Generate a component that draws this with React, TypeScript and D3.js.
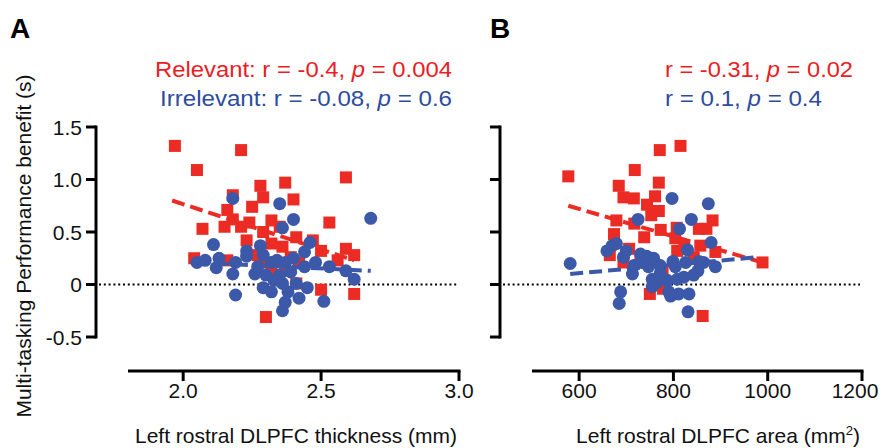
import React from "react";
import * as d3 from "d3";

// ---------- DATA ----------
// Panel A: Left rostral DLPFC thickness (mm) vs multitasking benefit (s)
const thickRelevantX = [1.97, 2.21, 2.05, 2.59, 2.37, 2.28, 2.29, 2.40, 2.18, 2.25, 2.16, 2.07, 2.15, 2.21, 2.18, 2.24, 2.32, 2.35, 2.53, 2.29, 2.41, 2.23, 2.47, 2.32, 2.36, 2.50, 2.59, 2.62, 2.56, 2.04, 2.16, 2.39, 2.27, 2.30, 2.41, 2.50, 2.62, 2.30, 2.37, 2.32, 2.42];
const thickRelevantY = [1.32, 1.28, 1.09, 1.02, 0.97, 0.94, 0.83, 0.81, 0.85, 0.74, 0.71, 0.53, 0.55, 0.55, 0.62, 0.59, 0.61, 0.55, 0.59, 0.50, 0.45, 0.42, 0.42, 0.39, 0.36, 0.32, 0.34, 0.28, 0.23, 0.25, 0.23, 0.26, 0.28, 0.21, 0.01, -0.05, -0.09, -0.31, 0.18, 0.13, 0.21];
const thickIrrelevantX = [2.18, 2.35, 2.40, 2.36, 2.68, 2.11, 2.28, 2.23, 2.46, 2.44, 2.05, 2.08, 2.13, 2.12, 2.19, 2.18, 2.29, 2.34, 2.37, 2.48, 2.53, 2.59, 2.62, 2.44, 2.39, 2.26, 2.30, 2.35, 2.29, 2.33, 2.36, 2.32, 2.38, 2.19, 2.45, 2.51, 2.37, 2.36, 2.27, 2.41, 2.23, 2.32, 2.40, 2.42];
const thickIrrelevantY = [0.82, 0.77, 0.62, 0.54, 0.63, 0.38, 0.37, 0.32, 0.40, 0.31, 0.21, 0.23, 0.25, 0.16, 0.21, 0.10, 0.28, 0.23, 0.21, 0.21, 0.17, 0.13, 0.05, 0.17, 0.12, 0.10, 0.09, 0.09, -0.03, 0.04, 0.01, -0.07, -0.07, -0.10, -0.03, -0.16, -0.17, -0.25, 0.17, 0.01, 0.27, 0.21, 0.25, -0.13];
const thickFitRelevant = { x: [1.96, 2.62], y: [0.80, 0.23] };
const thickFitIrrelevant = { x: [2.05, 2.68], y: [0.21, 0.13] };

// Panel B: Left rostral DLPFC area (mm2)
const areaRelevantX = [577, 771, 815, 718, 684, 769, 694, 716, 761, 744, 769, 753, 679, 717, 883, 773, 807, 854, 870, 674, 738, 804, 706, 823, 808, 665, 889, 843, 694, 989, 750, 862, 777, 778, 730, 857];
const areaRelevantY = [1.03, 1.28, 1.32, 1.09, 0.94, 0.97, 0.83, 0.82, 0.84, 0.76, 0.70, 0.66, 0.61, 0.58, 0.61, 0.52, 0.54, 0.53, 0.53, 0.48, 0.45, 0.44, 0.34, 0.37, 0.32, 0.28, 0.31, 0.26, 0.21, 0.21, -0.09, -0.30, 0.11, -0.04, 0.23, 0.37];
const areaIrrelevantX = [797, 874, 725, 838, 813, 880, 830, 581, 659, 670, 679, 694, 730, 743, 758, 716, 713, 747, 772, 799, 804, 826, 854, 864, 889, 852, 755, 765, 787, 808, 822, 755, 790, 811, 833, 794, 688, 685, 831, 772, 732, 700, 843];
const areaIrrelevantY = [0.82, 0.77, 0.62, 0.62, 0.53, 0.40, 0.33, 0.20, 0.32, 0.37, 0.39, 0.26, 0.29, 0.27, 0.25, 0.18, 0.10, 0.17, 0.18, 0.22, 0.17, 0.21, 0.22, 0.21, 0.17, 0.13, 0.05, 0.02, 0.04, 0.05, 0.07, -0.02, -0.07, -0.09, -0.09, -0.11, -0.07, -0.18, -0.26, 0.11, 0.21, 0.32, 0.09];
const areaFitRelevant = { x: [577, 989], y: [0.75, 0.21] };
const areaFitIrrelevant = { x: [581, 979], y: [0.10, 0.26] };

const yTicks = [1.5, 1.0, 0.5, 0, -0.5];
const yTickLabels = ["1.5", "1.0", "0.5", "0", "-0.5"];
const thickTicks = [2.0, 2.5, 3.0];
const thickTickLabels = ["2.0", "2.5", "3.0"];
const areaTicks = [600, 800, 1000, 1200];
const areaTickLabels = ["600", "800", "1000", "1200"];

// ---------- STYLE ----------
const RED = "#EC2C24";
const BLUE = "#3C58A8";
const RED_TXT = "#EA1D25";
const BLUE_TXT = "#2D4C9E";
const FONT = "'Liberation Sans', Arial, Helvetica, sans-serif";

type PanelProps = {
  xDomain: [number, number];
  xRange: [number, number];
  yAxisX: number;
  xTicks: number[];
  xTickLabels: string[];
  showYLabels: boolean;
  relX: number[];
  relY: number[];
  irrX: number[];
  irrY: number[];
  fitRel: { x: number[]; y: number[] };
  fitIrr: { x: number[]; y: number[] };
  zeroRange: [number, number];
};

const yScale = d3.scaleLinear().domain([-0.5, 1.5]).range([337, 127]);
const X_AXIS_Y = 371;

function Panel(p: PanelProps) {
  const x = d3.scaleLinear().domain(p.xDomain).range(p.xRange);
  const line = d3
    .line<[number, number]>()
    .x((d) => x(d[0]))
    .y((d) => yScale(d[1]));
  const fitPts = (f: { x: number[]; y: number[] }) =>
    f.x.map((v, i) => [v, f.y[i]] as [number, number]);
  const sq = 12;
  return (
    <g>
      {/* zero reference */}
      <line
        x1={p.zeroRange[0]}
        x2={p.zeroRange[1]}
        y1={yScale(0)}
        y2={yScale(0)}
        stroke="#000"
        strokeWidth={2}
        strokeDasharray="2,2.8"
      />
      {/* relevant squares */}
      {p.relX.map((v, i) => (
        <rect
          key={"r" + i}
          x={x(v) - sq / 2}
          y={yScale(p.relY[i]) - sq / 2}
          width={sq}
          height={sq}
          fill={RED}
        />
      ))}
      <path
        d={line(fitPts(p.fitRel)) || ""}
        stroke={RED}
        strokeWidth={4}
        strokeDasharray="13,6"
        fill="none"
      />
      {p.irrX.map((v, i) => (
        <circle
          key={"b" + i}
          cx={x(v)}
          cy={yScale(p.irrY[i])}
          r={6.5}
          fill={BLUE}
        />
      ))}
      <path
        d={line(fitPts(p.fitIrr)) || ""}
        stroke={BLUE}
        strokeWidth={4}
        strokeDasharray="13,6"
        fill="none"
      />
      {/* y axis */}
      <line x1={p.yAxisX} x2={p.yAxisX} y1={yScale(1.5) - 1.5} y2={yScale(-0.5) + 1.5} stroke="#000" strokeWidth={3} />
      {yTicks.map((t, i) => (
        <g key={"yt" + i}>
          <line x1={p.yAxisX - 10} x2={p.yAxisX} y1={yScale(t)} y2={yScale(t)} stroke="#000" strokeWidth={3} />
          {p.showYLabels && (
            <text
              x={p.yAxisX - 14}
              y={yScale(t) + 7.5}
              textAnchor="end"
              fontSize={21}
              fontFamily={FONT}
              fill="#111"
            >
              {yTickLabels[i]}
            </text>
          )}
        </g>
      ))}
      {/* x axis */}
      <line x1={p.xRange[0]} x2={p.xRange[1] + 1.5} y1={X_AXIS_Y} y2={X_AXIS_Y} stroke="#000" strokeWidth={3} />
      {p.xTicks.map((t, i) => (
        <g key={"xt" + i}>
          <line x1={x(t)} x2={x(t)} y1={X_AXIS_Y} y2={X_AXIS_Y + 10} stroke="#000" strokeWidth={3} />
          <text
            x={Math.min(x(t), 855)}
            y={398}
            textAnchor="middle"
            fontSize={21}
            fontFamily={FONT}
            fill="#111"
          >
            {p.xTickLabels[i]}
          </text>
        </g>
      ))}
    </g>
  );
}

export default function App() {
  return (
    <svg
      width={882}
      height={448}
      style={{ position: "absolute", left: 0, top: 0, background: "#fff" }}
    >
      <rect width={882} height={448} fill="#fff" />
      {/* panel letters */}
      <text x={10} y={38} fontSize={28} fontWeight="bold" fontFamily={FONT} fill="#000">
        A
      </text>
      <text x={490} y={38} fontSize={28} fontWeight="bold" fontFamily={FONT} fill="#000">
        B
      </text>

      {/* legends panel A */}
      <text x={155} y={77} textLength={297} lengthAdjust="spacingAndGlyphs" fontSize={22} fontFamily={FONT} fill={RED_TXT}>
        Relevant: r = -0.4, <tspan fontStyle="italic">p</tspan> = 0.004
      </text>
      <text x={160} y={106} textLength={292} lengthAdjust="spacingAndGlyphs" fontSize={22} fontFamily={FONT} fill={BLUE_TXT}>
        Irrelevant: r = -0.08, <tspan fontStyle="italic">p</tspan> = 0.6
      </text>
      {/* legends panel B */}
      <text x={665} y={77} textLength={188} lengthAdjust="spacingAndGlyphs" fontSize={22} fontFamily={FONT} fill={RED_TXT}>
        r = -0.31, <tspan fontStyle="italic">p</tspan> = 0.02
      </text>
      <text x={665} y={106} textLength={157} lengthAdjust="spacingAndGlyphs" fontSize={22} fontFamily={FONT} fill={BLUE_TXT}>
        r = 0.1, <tspan fontStyle="italic">p</tspan> = 0.4
      </text>

      {/* y axis title */}
      <text
        transform="translate(31,246) rotate(-90)"
        textAnchor="middle"
        fontSize={21}
        fontFamily={FONT}
        fill="#111"
      >
        Multi-tasking Performance benefit (s)
      </text>

      <Panel
        xDomain={[1.8, 3.0]}
        xRange={[128, 459]}
        yAxisX={96}
        xTicks={thickTicks}
        xTickLabels={thickTickLabels}
        showYLabels={true}
        relX={thickRelevantX}
        relY={thickRelevantY}
        irrX={thickIrrelevantX}
        irrY={thickIrrelevantY}
        fitRel={thickFitRelevant}
        fitIrr={thickFitIrrelevant}
        zeroRange={[99, 457]}
      />
      <Panel
        xDomain={[500, 1200]}
        xRange={[532, 862]}
        yAxisX={500}
        xTicks={areaTicks}
        xTickLabels={areaTickLabels}
        showYLabels={false}
        relX={areaRelevantX}
        relY={areaRelevantY}
        irrX={areaIrrelevantX}
        irrY={areaIrrelevantY}
        fitRel={areaFitRelevant}
        fitIrr={areaFitIrrelevant}
        zeroRange={[503, 860]}
      />

      {/* x axis titles */}
      <text x={296} y={443} textAnchor="middle" fontSize={21} fontFamily={FONT} fill="#111">
        Left rostral DLPFC thickness (mm)
      </text>
      <text x={718} y={443} textAnchor="middle" fontSize={21} fontFamily={FONT} fill="#111">
        Left rostral DLPFC area (mm<tspan dy={-8} fontSize={13}>2</tspan>
        <tspan dy={8}>)</tspan>
      </text>
    </svg>
  );
}
